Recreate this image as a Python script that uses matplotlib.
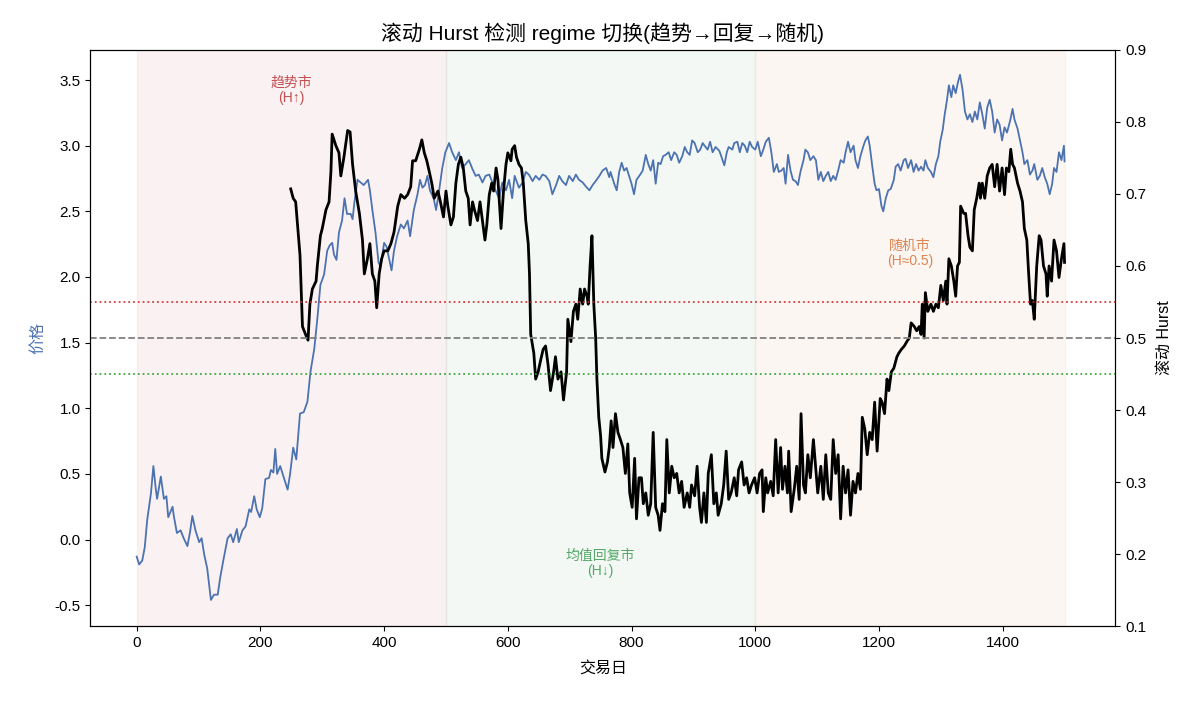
"""
Rolling Hurst regime chart: price on the left axis, rolling Hurst on the right.
"""

import matplotlib
matplotlib.use('Agg')
import matplotlib.pyplot as plt

plt.rcParams['font.family'] = ['Liberation Sans', 'Noto Sans CJK SC', 'DejaVu Sans']
plt.rcParams['axes.unicode_minus'] = False

# ---- data (trading day, value) ----
price_days = [
    0, 4, 9, 13, 17, 23, 27, 31, 33, 39, 44, 48, 51, 58, 60, 65, 71, 76, 82, 86,
    90, 95, 101, 105, 109, 114, 120, 125, 131, 135, 140, 147, 152, 156, 162, 165, 171, 176, 182, 185,
    190, 194, 199, 203, 208, 214, 217, 221, 224, 227, 232, 238, 244, 248, 253, 258, 264, 270, 276, 281,
    287, 292, 297, 303, 308, 312, 316, 319, 323, 327, 332, 336, 340, 346, 349, 352, 357, 362, 367, 374,
    377, 381, 386, 391, 394, 400, 404, 408, 412, 416, 421, 427, 432, 438, 442, 448, 454, 458, 462, 466,
    470, 474, 480, 484, 489, 494, 499, 505, 510, 516, 521, 526, 532, 537, 543, 548, 553, 559, 564, 570,
    575, 580, 586, 591, 597, 602, 607, 611, 618, 624, 629, 634, 640, 645, 651, 656, 661, 667, 672, 678,
    683, 688, 694, 699, 705, 710, 715, 721, 726, 732, 737, 742, 748, 753, 759, 764, 766, 772, 776, 780,
    784, 788, 792, 796, 800, 804, 808, 814, 818, 823, 827, 831, 835, 839, 843, 847, 851, 855, 860, 864,
    869, 873, 877, 882, 886, 890, 894, 898, 902, 907, 911, 915, 918, 923, 927, 931, 936, 942, 945, 950,
    954, 957, 963, 966, 971, 975, 979, 983, 987, 991, 995, 1000, 1004, 1009, 1013, 1017, 1022, 1026, 1030, 1035,
    1038, 1042, 1046, 1049, 1053, 1057, 1061, 1065, 1069, 1073, 1078, 1081, 1085, 1089, 1094, 1098, 1102, 1106, 1110, 1114,
    1118, 1122, 1126, 1130, 1134, 1138, 1143, 1146, 1150, 1154, 1159, 1162, 1166, 1170, 1175, 1178, 1182, 1185, 1189, 1193,
    1196, 1200, 1204, 1207, 1211, 1215, 1219, 1224, 1227, 1231, 1235, 1240, 1243, 1247, 1252, 1256, 1260, 1264, 1268, 1272,
    1275, 1279, 1284, 1288, 1292, 1296, 1299, 1303, 1306, 1310, 1313, 1317, 1320, 1324, 1328, 1331, 1335, 1339, 1343, 1347,
    1351, 1355, 1359, 1363, 1367, 1371, 1375, 1379, 1383, 1387, 1391, 1395, 1399, 1403, 1407, 1412, 1416, 1419, 1424, 1428,
    1432, 1435, 1440, 1444, 1448, 1451, 1456, 1460, 1464, 1468, 1472, 1476, 1480, 1483, 1487, 1491, 1495, 1499, 1500,
]
price_vals = [
    -0.13, -0.19, -0.16, -0.06, 0.15, 0.35, 0.56, 0.38, 0.31, 0.48, 0.31, 0.33, 0.17, 0.25, 0.18, 0.05, 0.07, 0.01, -0.05, 0.05,
    0.18, 0.07, -0.02, 0.01, -0.11, -0.22, -0.46, -0.42, -0.42, -0.29, -0.16, 0.01, 0.04, -0.02, 0.08, -0.02, 0.07, 0.10, 0.23, 0.21,
    0.33, 0.23, 0.17, 0.24, 0.46, 0.47, 0.53, 0.51, 0.69, 0.50, 0.56, 0.47, 0.38, 0.50, 0.70, 0.61, 0.96, 0.97, 1.05, 1.28,
    1.45, 1.68, 1.94, 2.02, 2.20, 2.24, 2.26, 2.17, 2.13, 2.34, 2.43, 2.60, 2.48, 2.48, 2.44, 2.57, 2.74, 2.72, 2.70, 2.74,
    2.66, 2.51, 2.34, 2.11, 2.08, 2.26, 2.23, 2.14, 2.05, 2.20, 2.31, 2.40, 2.37, 2.43, 2.31, 2.51, 2.63, 2.74, 2.68, 2.70,
    2.77, 2.66, 2.60, 2.51, 2.66, 2.83, 2.95, 3.02, 2.95, 2.89, 2.95, 2.83, 2.86, 2.89, 2.82, 2.77, 2.78, 2.72, 2.77, 2.78,
    2.72, 2.66, 2.60, 2.72, 2.66, 2.74, 2.60, 2.77, 2.68, 2.72, 2.80, 2.78, 2.73, 2.77, 2.74, 2.78, 2.77, 2.73, 2.63, 2.70,
    2.77, 2.73, 2.70, 2.77, 2.73, 2.78, 2.74, 2.72, 2.69, 2.66, 2.70, 2.73, 2.77, 2.81, 2.83, 2.76, 2.80, 2.71, 2.66, 2.80,
    2.87, 2.81, 2.83, 2.77, 2.71, 2.63, 2.74, 2.78, 2.81, 2.93, 2.86, 2.81, 2.89, 2.71, 2.87, 2.86, 2.92, 2.93, 2.95, 2.89,
    2.95, 2.93, 2.87, 2.92, 2.99, 2.95, 2.93, 3.04, 3.02, 2.95, 2.97, 3.02, 3.00, 2.97, 3.03, 2.95, 2.99, 2.96, 2.92, 2.85,
    2.95, 2.99, 2.97, 3.02, 3.03, 2.95, 3.02, 3.00, 2.95, 3.03, 2.99, 2.97, 3.03, 2.92, 2.97, 3.03, 3.06, 2.95, 2.80, 2.86,
    2.80, 2.81, 2.83, 2.71, 2.93, 2.81, 2.74, 2.73, 2.70, 2.80, 2.89, 2.97, 2.95, 2.89, 2.92, 2.89, 2.74, 2.80, 2.73, 2.77,
    2.80, 2.73, 2.77, 2.74, 2.81, 2.89, 2.87, 2.95, 3.03, 2.95, 3.00, 2.89, 2.83, 2.92, 3.00, 3.04, 3.07, 3.00, 2.85, 2.71,
    2.66, 2.67, 2.54, 2.50, 2.60, 2.66, 2.67, 2.74, 2.84, 2.86, 2.81, 2.89, 2.90, 2.83, 2.89, 2.80, 2.86, 2.81, 2.84, 2.81,
    2.89, 2.83, 2.80, 2.76, 2.86, 2.92, 3.03, 3.12, 3.23, 3.35, 3.46, 3.37, 3.46, 3.40, 3.49, 3.54, 3.43, 3.26, 3.20, 3.24,
    3.18, 3.26, 3.20, 3.33, 3.24, 3.13, 3.29, 3.35, 3.26, 3.10, 3.20, 3.16, 3.04, 3.14, 3.10, 3.19, 3.28, 3.20, 3.13, 3.04,
    2.95, 2.86, 2.89, 2.78, 2.81, 2.86, 2.74, 2.77, 2.83, 2.76, 2.71, 2.63, 2.71, 2.83, 2.80, 2.95, 2.89, 3.00, 2.88,
]

hurst_days = [
    249, 253, 257, 260, 264, 268, 273, 277, 280, 284, 290, 292, 297, 300, 306, 311, 314, 316, 322, 327,
    330, 335, 341, 345, 349, 354, 360, 365, 368, 373, 377, 381, 385, 388, 392, 396, 400, 406, 411, 416,
    422, 427, 433, 438, 443, 446, 451, 457, 461, 465, 469, 473, 477, 481, 487, 491, 496, 500, 503, 508,
    512, 516, 520, 524, 528, 532, 536, 539, 543, 546, 551, 555, 559, 563, 566, 570, 574, 577, 581, 584,
    589, 593, 597, 600, 605, 607, 611, 614, 618, 622, 625, 629, 633, 635, 637, 642, 645, 649, 653, 657,
    661, 665, 669, 674, 677, 681, 686, 690, 695, 697, 702, 706, 710, 713, 717, 721, 724, 728, 730, 733,
    736, 739, 742, 744, 747, 750, 752, 757, 761, 764, 767, 770, 774, 778, 782, 786, 790, 794, 797, 801,
    805, 808, 812, 816, 819, 823, 827, 831, 835, 839, 843, 846, 850, 854, 857, 861, 865, 869, 873, 877,
    881, 885, 890, 894, 897, 902, 906, 910, 913, 917, 921, 924, 929, 933, 937, 940, 945, 949, 953, 957,
    961, 966, 970, 973, 978, 982, 986, 990, 994, 999, 1003, 1007, 1011, 1013, 1017, 1020, 1025, 1029, 1033, 1037,
    1041, 1044, 1048, 1052, 1054, 1058, 1063, 1067, 1071, 1074, 1078, 1081, 1085, 1089, 1094, 1098, 1101, 1106, 1110, 1114,
    1118, 1122, 1126, 1130, 1134, 1138, 1142, 1146, 1150, 1154, 1158, 1162, 1166, 1170, 1173, 1177, 1181, 1185, 1189, 1193,
    1197, 1202, 1205, 1209, 1213, 1216, 1220, 1224, 1229, 1232, 1236, 1241, 1245, 1249, 1252, 1257, 1261, 1265, 1268, 1270,
    1273, 1275, 1279, 1284, 1288, 1292, 1296, 1300, 1304, 1308, 1310, 1313, 1317, 1321, 1324, 1327, 1330, 1332, 1337, 1340,
    1344, 1347, 1351, 1354, 1358, 1362, 1364, 1367, 1371, 1375, 1379, 1383, 1387, 1391, 1395, 1399, 1403, 1406, 1410, 1413,
    1416, 1419, 1424, 1428, 1432, 1435, 1439, 1442, 1445, 1448, 1451, 1455, 1459, 1462, 1466, 1470, 1472, 1475, 1479, 1483,
    1487, 1491, 1495, 1499, 1500,
]
hurst_vals = [
    0.707, 0.694, 0.689, 0.657, 0.615, 0.516, 0.505, 0.497, 0.547, 0.568, 0.579, 0.600, 0.642, 0.652, 0.678, 0.689, 0.731, 0.783, 0.767, 0.757,
    0.725, 0.751, 0.788, 0.786, 0.741, 0.704, 0.673, 0.636, 0.589, 0.610, 0.631, 0.589, 0.579, 0.542, 0.589, 0.610, 0.621, 0.621, 0.631, 0.647,
    0.683, 0.699, 0.694, 0.699, 0.710, 0.746, 0.746, 0.762, 0.775, 0.757, 0.746, 0.731, 0.715, 0.694, 0.704, 0.689, 0.668, 0.704, 0.683, 0.657,
    0.668, 0.715, 0.741, 0.751, 0.736, 0.704, 0.694, 0.657, 0.689, 0.678, 0.663, 0.689, 0.663, 0.636, 0.657, 0.699, 0.715, 0.704, 0.736, 0.720,
    0.652, 0.704, 0.741, 0.757, 0.746, 0.762, 0.767, 0.751, 0.741, 0.736, 0.715, 0.663, 0.631, 0.589, 0.505, 0.479, 0.443, 0.453, 0.469, 0.484,
    0.489, 0.463, 0.427, 0.453, 0.474, 0.443, 0.453, 0.414, 0.453, 0.526, 0.495, 0.537, 0.547, 0.526, 0.568, 0.547, 0.568, 0.558, 0.547, 0.600,
    0.642, 0.547, 0.500, 0.443, 0.390, 0.364, 0.333, 0.314, 0.328, 0.348, 0.385, 0.348, 0.395, 0.369, 0.359, 0.348, 0.312, 0.353, 0.285, 0.265,
    0.333, 0.249, 0.306, 0.306, 0.270, 0.285, 0.254, 0.270, 0.369, 0.265, 0.254, 0.233, 0.270, 0.259, 0.359, 0.285, 0.322, 0.306, 0.312, 0.285,
    0.301, 0.265, 0.285, 0.265, 0.296, 0.281, 0.322, 0.265, 0.244, 0.285, 0.244, 0.312, 0.338, 0.270, 0.285, 0.254, 0.270, 0.296, 0.343, 0.276,
    0.285, 0.306, 0.281, 0.317, 0.328, 0.296, 0.306, 0.285, 0.296, 0.306, 0.285, 0.312, 0.317, 0.259, 0.306, 0.285, 0.301, 0.281, 0.359, 0.285,
    0.348, 0.290, 0.322, 0.285, 0.343, 0.259, 0.290, 0.322, 0.276, 0.395, 0.296, 0.285, 0.338, 0.306, 0.359, 0.317, 0.285, 0.322, 0.276, 0.338,
    0.285, 0.276, 0.359, 0.312, 0.338, 0.249, 0.322, 0.285, 0.317, 0.254, 0.301, 0.285, 0.312, 0.290, 0.390, 0.374, 0.338, 0.369, 0.359, 0.411,
    0.343, 0.416, 0.411, 0.395, 0.443, 0.427, 0.453, 0.458, 0.474, 0.479, 0.484, 0.489, 0.495, 0.500, 0.521, 0.516, 0.510, 0.516, 0.505, 0.547,
    0.500, 0.563, 0.537, 0.547, 0.537, 0.547, 0.542, 0.573, 0.552, 0.579, 0.547, 0.610, 0.600, 0.579, 0.558, 0.600, 0.605, 0.683, 0.673, 0.673,
    0.642, 0.626, 0.621, 0.678, 0.694, 0.715, 0.694, 0.715, 0.694, 0.725, 0.736, 0.741, 0.710, 0.741, 0.704, 0.736, 0.699, 0.736, 0.731, 0.762,
    0.741, 0.736, 0.715, 0.704, 0.689, 0.652, 0.636, 0.589, 0.547, 0.552, 0.526, 0.600, 0.642, 0.636, 0.600, 0.589, 0.558, 0.600, 0.579, 0.636,
    0.621, 0.584, 0.610, 0.631, 0.605,
]

# regimes: (start, end, label, colour)
regime_bounds = [(0, 500), (500, 1000), (1000, 1500)]
regime_labels = ['趋势市\n(H↑)', '均值回复市\n(H↓)', '随机市\n(H≈0.5)']
regime_colors = ['#C44E52', '#55A868', '#DD8452']
# where the regime label sits (day, price)
label_pos = [(250, 3.42), (750, -0.18), (1250, 2.18)]

hurst_levels = [0.55, 0.5, 0.45]

fig = plt.figure(figsize=(11.96, 7.02), dpi=100)
ax = fig.add_axes([0.0755, 0.108, 0.857, 0.821])
ax2 = ax.twinx()

# shaded regime blocks
for (a, b), c in zip(regime_bounds, regime_colors):
    ax.axvspan(a, b, color=c, alpha=0.07)

for (x, y), txt, c in zip(label_pos, regime_labels, regime_colors):
    ax.text(x, y, txt, color=c, fontsize=10, ha='center', va='center', linespacing=1.1)

# price
ax.plot(price_days, price_vals, color='#4C72B0', linewidth=1.3)
ax.set_ylim(-0.66, 3.73)
ax.set_yticks([-0.5, 0.0, 0.5, 1.0, 1.5, 2.0, 2.5, 3.0, 3.5])
ax.set_ylabel('价格', color='#4C72B0', fontsize=11.5, labelpad=7)
ax.set_xlabel('交易日', fontsize=11.5, labelpad=8)
ax.set_xlim(-75, 1582)

# hurst + reference levels
ax2.plot(hurst_days, hurst_vals, color='black', linewidth=2.0)
ax2.axhline(hurst_levels[0], color='#D62728', linestyle=':', linewidth=1.3, alpha=0.9)
ax2.axhline(hurst_levels[1], color='gray', linestyle='--', linewidth=1.3)
ax2.axhline(hurst_levels[2], color='#2CA02C', linestyle=':', linewidth=1.3, alpha=0.9)
ax2.set_ylim(0.1, 0.9)
ax2.set_ylabel('滚动 Hurst', fontsize=11.5, labelpad=8)

for a in (ax, ax2):
    a.tick_params(labelsize=11)

ax.set_title('滚动 Hurst 检测 regime 切换(趋势→回复→随机)', fontsize=15, pad=7)

fig.savefig('out.png', dpi=100, facecolor='white')
